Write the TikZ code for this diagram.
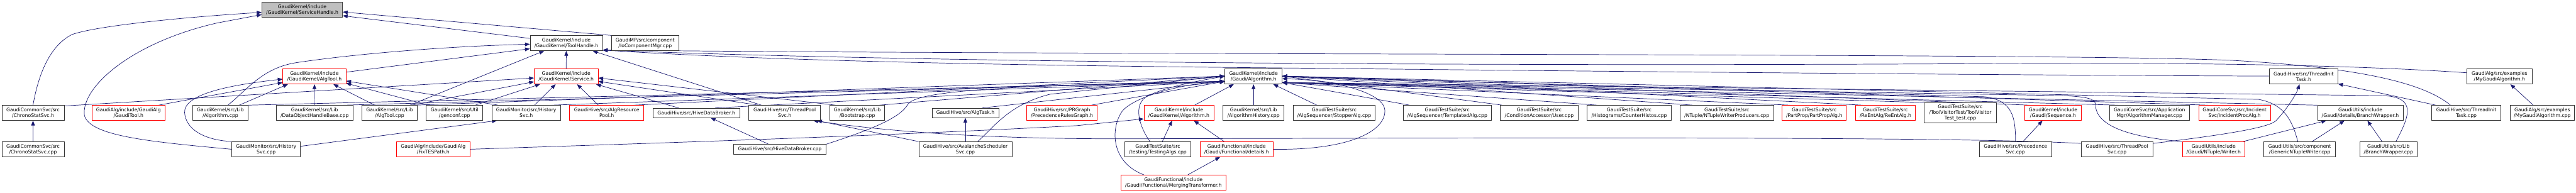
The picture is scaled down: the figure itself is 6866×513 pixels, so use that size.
\documentclass[tikz,border=0pt]{standalone}
\usepackage{fontspec}
\setmainfont{DejaVu Sans}
\usepackage{tikz}
\usetikzlibrary{arrows.meta,backgrounds}

\definecolor{incblue}{HTML}{191970}
\definecolor{rootgrey}{HTML}{BFBFBF}

\begin{document}
\begin{tikzpicture}[x=1pt, y=1pt,
  file/.style={rectangle, draw=black!80, line width=1.2pt, fill=white,
               minimum height=40pt, inner sep=0pt, align=center,
               font=\fontsize{12.9}{15}\selectfont},
  trunc/.style={file, draw=red},
  root/.style={file, fill=rootgrey, draw=black!75},
  inc/.style={draw=incblue, line width=1.2pt, -{Triangle[length=13pt, width=10pt]}}
]
\useasboundingbox (0,0) rectangle (6866,513);

% root and upper levels
\node[root, minimum width=215pt] (SH) at (805.5,487) {GaudiKernel/include\\/GaudiKernel/ServiceHandle.h};
\node[file, minimum width=193pt] (TH) at (1509.5,398) {GaudiKernel/include\\/GaudiKernel/ToolHandle.h};
\node[file, minimum width=179pt] (IoCM) at (1719.5,398) {GaudiMP/src/component\\/IoComponentMgr.cpp};
\node[trunc, minimum width=168pt] (AT) at (838,309) {GaudiKernel/include\\/GaudiKernel/AlgTool.h};
\node[trunc, minimum width=170pt] (SV) at (1509,309) {GaudiKernel/include\\/GaudiKernel/Service.h};
\node[file, minimum width=152pt] (GA) at (3341,309) {GaudiKernel/include\\/Gaudi/Algorithm.h};
\node[file, minimum width=182pt] (TIT) at (6140,309) {GaudiHive/src/ThreadInit\\Task.h};
\node[file, minimum width=174pt] (MGA) at (6662,309) {GaudiAlg/src/examples\\/MyGaudiAlgorithm.h};

% row of direct includers
\node[file, minimum width=166pt] (CSS) at (88,212) {GaudiCommonSvc/src\\/ChronoStatSvc.h};
\node[trunc, minimum width=195pt] (GT) at (342.5,212) {GaudiAlg/include/GaudiAlg\\/GaudiTool.h};
\node[file, minimum width=147pt] (ALG) at (587.5,212) {GaudiKernel/src/Lib\\/Algorithm.cpp};
\node[file, minimum width=205pt] (DOHB) at (838.5,212) {GaudiKernel/src/Lib\\/DataObjectHandleBase.cpp};
\node[file, minimum width=147pt] (ATC) at (1038.5,212) {GaudiKernel/src/Lib\\/AlgTool.cpp};
\node[file, minimum width=151pt] (GC) at (1211.5,212) {GaudiKernel/src/Util\\/genconf.cpp};
\node[file, minimum width=183pt] (HS) at (1402.5,212) {GaudiMonitor/src/History\\Svc.h};
\node[trunc, minimum width=198pt] (ARP) at (1617,212) {GaudiHive/src/AlgResource\\Pool.h};
\node[file, minimum width=232pt, minimum height=25pt] (HDB) at (1856,212) {GaudiHive/src/HiveDataBroker.h};
\node[file, minimum width=191pt] (TPS) at (2091.5,212) {GaudiHive/src/ThreadPool\\Svc.h};
\node[file, minimum width=146pt] (BS) at (2285,212) {GaudiKernel/src/Lib\\/Bootstrap.cpp};
\node[file, minimum width=178pt, minimum height=25pt] (ATK) at (2573,212) {GaudiHive/src/AlgTask.h};
\node[trunc, minimum width=187pt] (PRG) at (2830.5,212) {GaudiHive/src/PRGraph\\/PrecedenceRulesGraph.h};
\node[trunc, minimum width=186pt] (KA) at (3142,212) {GaudiKernel/include\\/GaudiKernel/Algorithm.h};
\node[file, minimum width=162pt] (AH) at (3341,212) {GaudiKernel/src/Lib\\/AlgorithmHistory.cpp};
\node[file, minimum width=218pt] (SA) at (3556,212) {GaudiTestSuite/src\\/AlgSequencer/StopperAlg.cpp};
\node[file, minimum width=235pt] (TA) at (3857.5,212) {GaudiTestSuite/src\\/AlgSequencer/TemplatedAlg.cpp};
\node[file, minimum width=207pt] (US) at (4102.5,212) {GaudiTestSuite/src\\/ConditionAccessor/User.cpp};
\node[file, minimum width=225pt] (CH) at (4342.5,212) {GaudiTestSuite/src\\/Histograms/CounterHistos.cpp};
\node[file, minimum width=249pt] (NTW) at (4602.5,212) {GaudiTestSuite/src\\/NTuple/NTupleWriterProducers.cpp};
\node[trunc, minimum width=171pt] (PP) at (4835.5,212) {GaudiTestSuite/src\\/PartProp/PartPropAlg.h};
\node[trunc, minimum width=159pt] (RE) at (5025.5,212) {GaudiTestSuite/src\\/ReEntAlg/ReEntAlg.h};
\node[file, minimum width=192pt, minimum height=54pt] (TV) at (5225,212) {GaudiTestSuite/src\\/ToolVisitorTest/ToolVisitor\\Test\_test.cpp};
\node[trunc, minimum width=152pt] (SQ) at (5472,212) {GaudiKernel/include\\/Gaudi/Sequence.h};
\node[file, minimum width=214pt] (AM) at (5729,212) {GaudiCoreSvc/src/Application\\Mgr/AlgorithmManager.cpp};
\node[trunc, minimum width=192pt] (IPA) at (5956,212) {GaudiCoreSvc/src/Incident\\Svc/IncidentProcAlg.h};
\node[file, minimum width=228pt] (BW) at (6291,212) {GaudiUtils/include\\/Gaudi/details/BranchWrapper.h};
\node[file, minimum width=185pt] (TIC) at (6573.5,212) {GaudiHive/src/ThreadInit\\Task.cpp};
\node[file, minimum width=172pt] (MGC) at (6776,212) {GaudiAlg/src/examples\\/MyGaudiAlgorithm.cpp};

% lower rows
\node[file, minimum width=166pt] (CSC) at (88,115) {GaudiCommonSvc/src\\/ChronoStatSvc.cpp};
\node[file, minimum width=183pt] (HSC) at (709.5,115) {GaudiMonitor/src/History\\Svc.cpp};
\node[trunc, minimum width=195pt] (FTP) at (1154.5,115) {GaudiAlg/include/GaudiAlg\\/FixTESPath.h};
\node[file, minimum width=247pt, minimum height=26pt] (HDC) at (2078.5,115) {GaudiHive/src/HiveDataBroker.cpp};
\node[file, minimum width=248pt] (ASS) at (2573,115) {GaudiHive/src/AvalancheScheduler\\Svc.cpp};
\node[file, minimum width=176pt] (TAL) at (3086,115) {GaudiTestSuite/src\\/testing/TestingAlgs.cpp};
\node[trunc, minimum width=194pt] (DT) at (3296,115) {GaudiFunctional/include\\/Gaudi/Functional/details.h};
\node[file, minimum width=192pt] (PSC) at (5372,115) {GaudiHive/src/Precedence\\Svc.cpp};
\node[file, minimum width=191pt] (TPC) at (5642.5,115) {GaudiHive/src/ThreadPool\\Svc.cpp};
\node[trunc, minimum width=166pt] (WR) at (5900,115) {GaudiUtils/include\\/Gaudi/NTuple/Writer.h};
\node[file, minimum width=191pt] (GNW) at (6129.5,115) {GaudiUtils/src/component\\/GenericNTupleWriter.cpp};
\node[file, minimum width=152pt] (BWC) at (6366,115) {GaudiUtils/src/Lib\\/BranchWrapper.cpp};
\node[trunc, minimum width=279pt] (MT) at (3127.5,26) {GaudiFunctional/include\\/Gaudi/Functional/MergingTransformer.h};

\begin{scope}[on background layer]
% into ServiceHandle.h
\draw[inc] (CSS.north) .. controls (105,330) and (140,395) .. (192,421) .. controls (260,445) and (500,468) .. ([yshift=-7pt]SH.west);
\draw[inc] (HSC.west) .. controls (400,135) and (240,150) .. (225,205) .. controls (215,280) and (350,400) .. (580,452) -- ([yshift=-13pt]SH.west);
\draw[inc] (IoCM.north west) -- ([yshift=-6pt]SH.east);
\draw[inc] ([yshift=-8pt]TH.north west) -- ([yshift=-16pt]SH.east);

% into ToolHandle.h
\draw[inc] ([xshift=20pt]ALG.north) .. controls (660,275) and (700,332) .. (790,346) .. controls (950,370) and (1200,390) .. ([yshift=-3pt]TH.west);
\draw[inc] ([yshift=-9pt]AT.north east) -- ([yshift=-15pt]TH.west);
\draw[inc] ([xshift=-20pt]ATC.north east) -- ([xshift=38pt]TH.south west);
\draw[inc] (SV) -- (TH);
\draw[inc] ([xshift=-62pt]TPS.north) -- ([xshift=-27pt]TH.south east);
\draw[inc] ([xshift=-42pt]TIC.north) .. controls (6450,300) and (6250,335) .. (5950,352) .. controls (5500,372) and (3000,365) .. ([yshift=2pt]TH.south east);
\draw[inc] ([yshift=10pt]MGA.west) .. controls (6300,338) and (5900,346) .. (5400,344) .. controls (4000,335) and (2500,345) .. ([yshift=2pt]TH.south east);
\draw[inc] ([yshift=1pt]TIT.west) .. controls (5500,312) and (4500,320) .. (3500,331) .. controls (2500,340) and (2000,355) .. ([yshift=2pt]TH.south east);

% into AlgTool.h
\draw[inc] (HSC.north west) .. controls (540,140) and (495,170) .. (492,213) .. controls (490,260) and (600,285) .. ([yshift=-7pt]AT.west);
\draw[inc] ([xshift=-18pt]GT.north east) -- ([yshift=-16pt]AT.west);
\draw[inc] ([xshift=50pt]ALG.north) -- ([xshift=14pt]AT.south west);
\draw[inc] (DOHB) -- (AT);
\draw[inc] ([xshift=-40pt]ATC.north) -- ([xshift=-34pt]AT.south east);
\draw[inc] ([xshift=18pt]HS.north west) -- ([yshift=-12pt]AT.east);
\draw[inc] ([xshift=7pt]GC.north west) -- ([yshift=-18pt]AT.east);

% into Service.h
\draw[inc] ([yshift=-2pt]CSS.north east) -- ([yshift=-4pt]SV.west);
\draw[inc] ([xshift=-15pt]ATC.north east) -- ([yshift=-14pt]SV.west);
\draw[inc] ([xshift=-21pt]GC.north east) -- ([xshift=16pt]SV.south west);
\draw[inc] ([xshift=22pt]HS.north) -- ([xshift=-28pt]SV.south);
\draw[inc] ([xshift=-22pt]ARP.north) -- ([xshift=29pt]SV.south);
\draw[inc] ([xshift=-47pt]HDB.north) -- ([xshift=-6pt]SV.south east);
\draw[inc] ([xshift=16pt]BS.north west) -- ([yshift=-4pt]SV.east);
\draw[inc] ([xshift=-70pt]TPS.north) -- ([yshift=-13pt]SV.east);

% into the other headers
\draw[inc] ([yshift=8pt]HSC.east) -- ([xshift=14pt]HS.south west);
\draw[inc] ([xshift=-30pt]HDC.north) -- ([xshift=38pt]HDB.south);
\draw[inc] ([yshift=-5pt]TPC.north west) .. controls (5200,150) and (4000,145) .. (3000,143) .. controls (2600,142) and (2350,165) .. ([xshift=-20pt]TPS.south east);
\draw[inc] (ASS.north west) -- ([xshift=-10pt]TPS.south east);
\draw[inc] (ASS) -- (ATK);
\draw[inc] ([xshift=12pt]TAL.north) -- ([xshift=-18pt]KA.south);
\draw[inc] ([xshift=-33pt]DT.north) -- ([xshift=40pt]KA.south);
\draw[inc] (FTP.east) .. controls (1700,130) and (2300,148) .. (2870,178) -- ([yshift=-16pt]KA.west);
\draw[inc] ([xshift=38pt]MT.north) -- ([xshift=-44pt]DT.south);
\draw[inc] (CSC) -- (CSS);
\draw[inc] ([xshift=20pt]PSC.north) -- ([xshift=-28pt]SQ.south);
\draw[inc] ([yshift=-5pt]TPC.north east) .. controls (5900,150) and (6040,170) .. (6065,190) .. controls (6090,215) and (6120,260) .. ([xshift=-11pt]TIT.south);
\draw[inc] ([xshift=12pt]TIC.north west) -- ([yshift=1pt]TIT.south east);
\draw[inc] ([xshift=-5pt]WR.north east) -- ([xshift=24pt]BW.south west);
\draw[inc] ([xshift=33pt]GNW.north) -- ([xshift=-42pt]BW.south);
\draw[inc] ([xshift=-17pt]BWC.north) -- ([xshift=19pt]BW.south);
\draw[inc] ([xshift=-24pt]MGC.north) -- ([xshift=29pt]MGA.south);

% into Gaudi/Algorithm.h
\draw[inc] ([xshift=42pt]KA.north) -- ([xshift=24pt]GA.south west);
\draw[inc] (AH) -- (GA);
\draw[inc] ([xshift=-46pt]SA.north) -- ([xshift=-24pt]GA.south east);
\draw[inc] (DT.east) .. controls (3600,112) and (3695,165) .. (3691,220) .. controls (3688,265) and (3560,300) .. ([yshift=-6pt]GA.east);
\draw[inc] (ALG.north east) -- ([yshift=-13pt]GA.west);
\draw[inc] ([xshift=-26pt]DOHB.north east) -- ([yshift=-13pt]GA.west);
\draw[inc] ([xshift=-8pt]ATC.north east) -- ([yshift=1pt]GA.west);
\draw[inc] ([xshift=-25pt]HS.north east) -- ([yshift=-13pt]GA.west);
\draw[inc] ([xshift=-28pt]ARP.north east) -- ([yshift=1pt]GA.west);
\draw[inc] ([xshift=-67pt]HDB.north east) -- ([yshift=-13pt]GA.west);
\draw[inc] ([xshift=-15pt]BS.north east) -- ([yshift=1pt]GA.west);
\draw[inc] ([xshift=-45pt]ATK.north east) -- ([yshift=-13pt]GA.west);
\draw[inc] ([xshift=-16pt]PRG.north east) -- ([yshift=-13pt]GA.west);
\draw[inc] ([xshift=33pt]ASS.north) .. controls (2650,175) and (2690,235) .. (2800,262) -- ([yshift=1pt]GA.west);
\draw[inc] (HDC.north east) .. controls (2330,170) and (2400,200) .. (2420,235) .. controls (2440,265) and (2600,285) .. ([yshift=-13pt]GA.west);
\draw[inc] ([xshift=-21pt]TAL.north) .. controls (3040,170) and (3015,235) .. (3060,258) .. controls (3120,285) and (3200,298) .. ([yshift=1pt]GA.west);
\draw[inc] ([xshift=-78pt]MT.north) .. controls (2960,80) and (2960,170) .. (2990,215) .. controls (3020,255) and (3150,290) .. ([yshift=-13pt]GA.west);
\draw[inc] ([xshift=18pt]TA.north west) -- ([yshift=-16pt]GA.east);
\draw[inc] ([xshift=6pt]US.north west) -- ([yshift=1pt]GA.east);
\draw[inc] ([xshift=29pt]CH.north west) -- ([yshift=-16pt]GA.east);
\draw[inc] ([xshift=36pt]NTW.north west) -- ([yshift=1pt]GA.east);
\draw[inc] ([xshift=22pt]PP.north west) -- ([yshift=-16pt]GA.east);
\draw[inc] ([xshift=20pt]RE.north west) -- ([yshift=1pt]GA.east);
\draw[inc] (TV.north west) -- ([yshift=-16pt]GA.east);
\draw[inc] ([xshift=15pt]SQ.north west) -- ([yshift=1pt]GA.east);
\draw[inc] ([xshift=25pt]AM.north west) -- ([yshift=-16pt]GA.east);
\draw[inc] ([xshift=26pt]IPA.north west) -- ([yshift=1pt]GA.east);
\draw[inc] (BW.north west) -- ([yshift=-16pt]GA.east);
\draw[inc] (PSC.north) .. controls (5372,200) and (5365,245) .. (5290,255) -- ([yshift=1pt]GA.east);
\draw[inc] (WR.north west) .. controls (5640,150) and (5585,190) .. (5585,235) .. controls (5585,250) and (5560,255) .. (5500,258) -- ([yshift=-16pt]GA.east);
\draw[inc] ([xshift=-5pt]GNW.north) .. controls (6110,190) and (6090,235) .. (6020,248) -- ([yshift=1pt]GA.east);
\draw[inc] ([xshift=20pt]BWC.north) .. controls (6420,200) and (6445,255) .. (6350,258) -- ([yshift=-16pt]GA.east);
\end{scope}
\end{tikzpicture}
\end{document}
